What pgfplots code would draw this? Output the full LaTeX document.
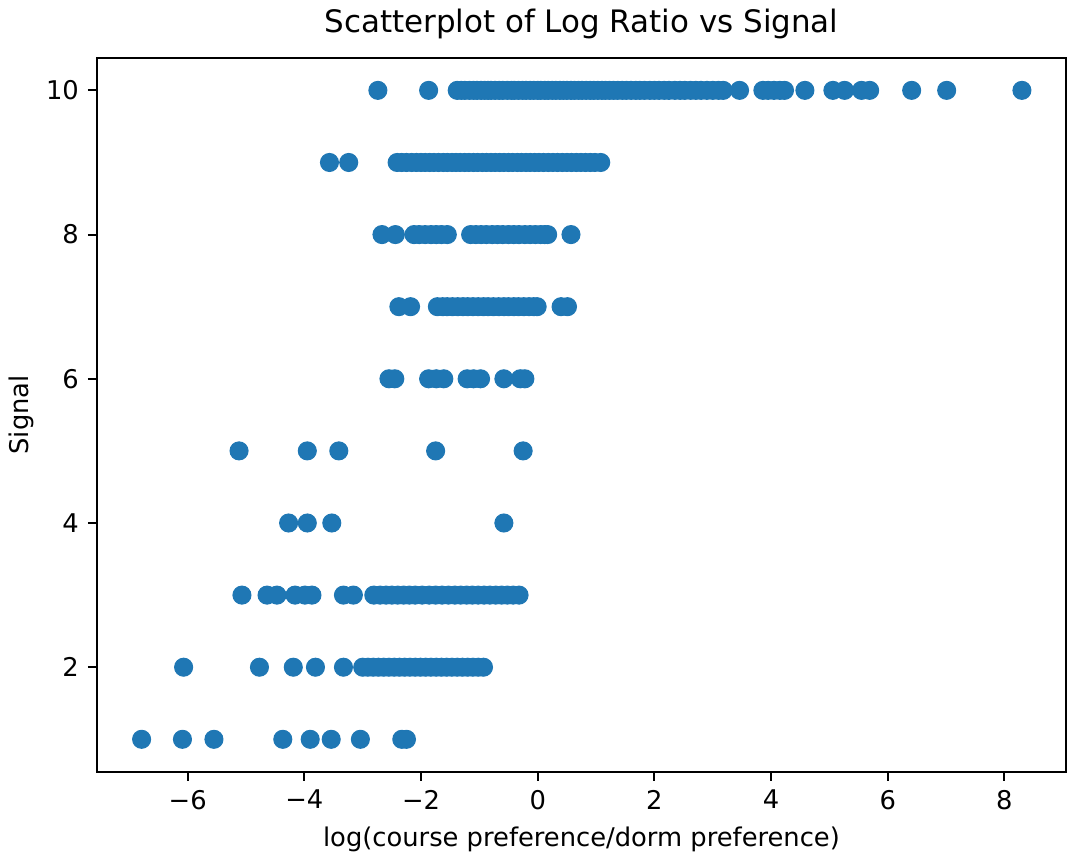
\documentclass[border=0pt]{standalone}
\usepackage{fontspec}
\setmainfont{DejaVu Sans}
\usepackage{pgfplots}
\pgfplotsset{compat=1.18}
\definecolor{mplblue}{HTML}{1F77B4}

% signal x log ratio
\pgfplotstableread{
x y
-2.74 10
-1.87 10
-1.38 10
-1.31 10
-1.25 10
-1.17 10
-1.10 10
-1.04 10
-0.97 10
-0.91 10
-0.85 10
-0.80 10
-0.73 10
-0.66 10
-0.60 10
-0.52 10
-0.45 10
-0.40 10
-0.33 10
-0.26 10
-0.20 10
-0.13 10
-0.07 10
0.00 10
0.05 10
0.12 10
0.18 10
0.25 10
0.31 10
0.38 10
0.44 10
0.50 10
0.57 10
0.63 10
0.70 10
0.76 10
0.83 10
0.90 10
0.96 10
1.03 10
1.10 10
1.16 10
1.23 10
1.30 10
1.37 10
1.45 10
1.52 10
1.60 10
1.68 10
1.75 10
1.83 10
1.92 10
2.00 10
2.08 10
2.17 10
2.25 10
2.35 10
2.44 10
2.52 10
2.62 10
2.71 10
2.80 10
2.90 10
3.00 10
3.10 10
3.18 10
3.46 10
3.86 10
3.95 10
4.05 10
4.15 10
4.23 10
4.58 10
5.06 10
5.26 10
5.55 10
5.69 10
6.41 10
7.01 10
8.30 10
-3.57 9
-3.24 9
-2.41 9
-2.33 9
-2.25 9
-2.16 9
-2.08 9
-2.00 9
-1.93 9
-1.85 9
-1.78 9
-1.70 9
-1.62 9
-1.55 9
-1.47 9
-1.40 9
-1.33 9
-1.25 9
-1.18 9
-1.10 9
-1.03 9
-0.95 9
-0.88 9
-0.80 9
-0.73 9
-0.65 9
-0.58 9
-0.50 9
-0.43 9
-0.35 9
-0.28 9
-0.20 9
-0.13 9
-0.05 9
0.02 9
0.10 9
0.18 9
0.26 9
0.34 9
0.42 9
0.50 9
0.58 9
0.66 9
0.74 9
0.82 9
0.90 9
0.98 9
1.08 9
-2.67 8
-2.44 8
-2.12 8
-2.03 8
-1.93 8
-1.83 8
-1.74 8
-1.65 8
-1.55 8
-1.15 8
-1.06 8
-0.97 8
-0.88 8
-0.78 8
-0.69 8
-0.60 8
-0.50 8
-0.41 8
-0.32 8
-0.22 8
-0.13 8
-0.04 8
0.05 8
0.12 8
0.17 8
0.57 8
-2.38 7
-2.18 7
-1.72 7
-1.63 7
-1.55 7
-1.46 7
-1.37 7
-1.28 7
-1.20 7
-1.11 7
-1.02 7
-0.93 7
-0.85 7
-0.76 7
-0.67 7
-0.58 7
-0.50 7
-0.41 7
-0.33 7
-0.24 7
-0.15 7
-0.07 7
-0.01 7
0.40 7
0.51 7
-2.55 6
-2.45 6
-1.87 6
-1.74 6
-1.61 6
-1.21 6
-1.10 6
-0.98 6
-0.58 6
-0.30 6
-0.22 6
-5.12 5
-3.95 5
-3.41 5
-1.75 5
-0.25 5
-4.27 4
-3.95 4
-3.53 4
-0.58 4
-5.07 3
-4.64 3
-4.47 3
-4.16 3
-3.99 3
-3.87 3
-3.33 3
-3.16 3
-2.81 3
-2.70 3
-2.60 3
-2.50 3
-2.40 3
-2.30 3
-2.20 3
-2.10 3
-1.98 3
-1.86 3
-1.75 3
-1.64 3
-1.53 3
-1.42 3
-1.32 3
-1.22 3
-1.12 3
-1.02 3
-0.92 3
-0.82 3
-0.72 3
-0.62 3
-0.52 3
-0.42 3
-0.32 3
-6.07 2
-4.77 2
-4.19 2
-3.81 2
-3.33 2
-3.00 2
-2.91 2
-2.82 2
-2.73 2
-2.64 2
-2.55 2
-2.46 2
-2.37 2
-2.28 2
-2.19 2
-2.10 2
-2.01 2
-1.92 2
-1.83 2
-1.74 2
-1.65 2
-1.56 2
-1.47 2
-1.38 2
-1.29 2
-1.20 2
-1.11 2
-1.02 2
-0.93 2
-6.79 1
-6.09 1
-5.55 1
-4.37 1
-3.90 1
-3.54 1
-3.04 1
-2.33 1
-2.25 1
}\signaldata

\begin{document}
\begin{tikzpicture}
\begin{axis}[%
width=376pt,
height=277pt,
scale only axis,
xmin=-7.555,
xmax=9.055,
ymin=0.55,
ymax=10.45,
xtick={-6,-4,-2,0,2,4,6,8},
xticklabels={−6,−4,−2,0,2,4,6,8},
ytick={2,4,6,8,10},
yticklabels={2,4,6,8,10},
xtick pos=bottom,
ytick pos=left,
tick align=outside,
major tick length=3.5pt,
tick style={line width=0.8pt,black},
axis line style={line width=0.8pt},
ticklabel style={font=\fontsize{10}{12}\selectfont},
label style={font=\fontsize{10}{12}\selectfont},
title style={font=\fontsize{12}{14}\selectfont,yshift=-2pt},
ylabel style={yshift=-2pt},
title={Scatterplot of Log Ratio vs Signal},
xlabel={log(course preference/dorm preference)},
ylabel={Signal},
]
\addplot[only marks,mark=*,mark size=3.5pt,color=mplblue,mark options={draw=mplblue,fill=mplblue}] table[x=x,y=y] {\signaldata};
\end{axis}
\end{tikzpicture}
\end{document}
